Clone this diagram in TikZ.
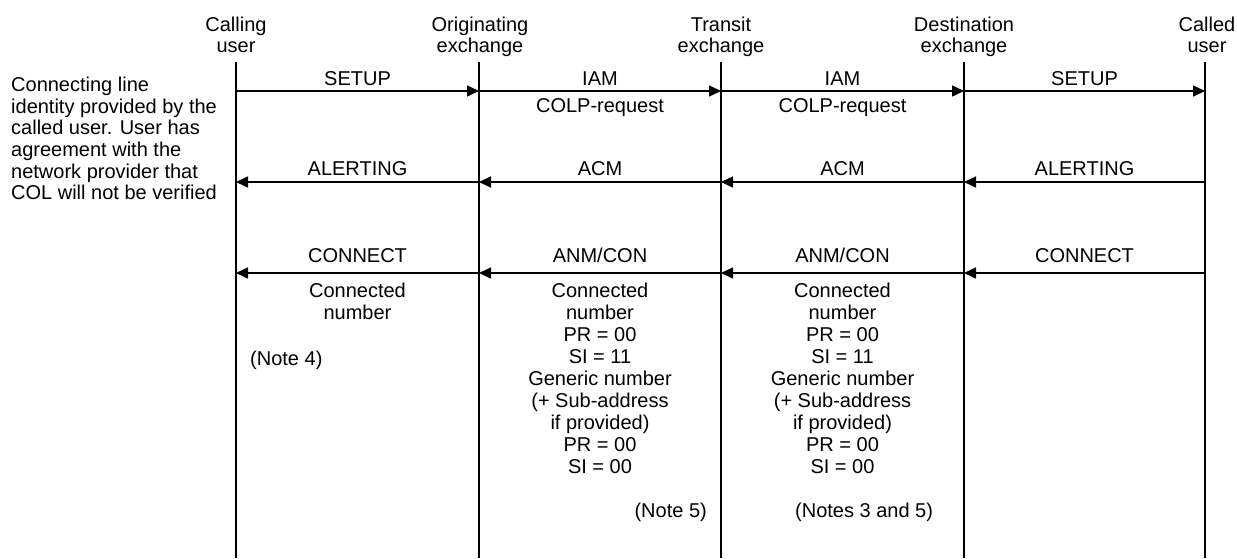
\documentclass[tikz,border=0pt]{standalone}
\usepackage{fontspec}
\setmainfont{Liberation Sans}
\usetikzlibrary{arrows.meta}
\begin{document}
\begin{tikzpicture}[x=1pt,y=-1pt,
  every node/.style={inner sep=0pt,font=\fontsize{20}{22}\selectfont},
  life/.style={line width=1.5pt},
  msg/.style={line width=1.5pt,-{Triangle[length=12pt,width=11pt]}},
  lbl/.style={anchor=base},
  hdr/.style={anchor=north,align=center,font=\fontsize{20}{20.5}\selectfont},
  info/.style={anchor=north,align=center}]
\useasboundingbox (0,0) rectangle (1237,558);
% lifelines and coordinates
\foreach \n/\x in {A/236,B/479,C/721,D/964,E/1205}{
  \coordinate (\n top) at (\x,62);
  \coordinate (\n bot) at (\x,558);
  \foreach \r/\y in {1/91,2/182,3/273}{\coordinate (\n\r) at (\x,\y);}
}
\foreach \n in {A,B,C,D,E}{\draw[life] (\n top) -- (\n bot);}
% headers
\node[hdr] (hA) at (236,17) {Calling\\user};
\node[hdr] (hB) at (480,17) {Originating\\exchange};
\node[hdr] (hC) at (721,17) {Transit\\exchange};
\node[hdr] (hD) at (964,17) {Destination\\exchange};
\node[hdr] (hE) at (1207,17) {Called\\user};
% left description
\node[anchor=north west,align=left,font=\fontsize{20}{21.6}\selectfont] (desc) at (11,77)
  {Connecting line\\identity provided by the\\called user. User has\\agreement with the\\network provider that\\COL will not be verified};
% row 1
\draw[msg] (A1) -- (B1);
\draw[msg] (B1) -- (C1);
\draw[msg] (C1) -- (D1);
\draw[msg] (D1) -- (E1);
\node[lbl] (m11) at (357.5,85) {SETUP};
\node[lbl] (m12) at (600,85) {IAM};
\node[lbl] (m13) at (842.5,85) {IAM};
\node[lbl] (m14) at (1084.5,85) {SETUP};
\node[lbl] (c12) at (600,112) {COLP-request};
\node[lbl] (c13) at (842.5,112) {COLP-request};
% row 2
\draw[msg] (E2) -- (D2);
\draw[msg] (D2) -- (C2);
\draw[msg] (C2) -- (B2);
\draw[msg] (B2) -- (A2);
\node[lbl] (m21) at (357.5,175) {ALERTING};
\node[lbl] (m22) at (600,175) {ACM};
\node[lbl] (m23) at (842.5,175) {ACM};
\node[lbl] (m24) at (1084.5,175) {ALERTING};
% row 3
\draw[msg] (E3) -- (D3);
\draw[msg] (D3) -- (C3);
\draw[msg] (C3) -- (B3);
\draw[msg] (B3) -- (A3);
\node[lbl] (m31) at (357.5,262.5) {CONNECT};
\node[lbl] (m32) at (600,262.5) {ANM/CON};
\node[lbl] (m33) at (842.5,262.5) {ANM/CON};
\node[lbl] (m34) at (1084.5,262.5) {CONNECT};
% info blocks
\node[info] (i1) at (357.5,283) {Connected\\number};
\node[info] (i2) at (600,283) {Connected\\number\\PR = 00\\SI = 11\\Generic number\\(+ Sub-address\\if provided)\\PR = 00\\SI = 00};
\node[info] (i3) at (842.5,283) {Connected\\number\\PR = 00\\SI = 11\\Generic number\\(+ Sub-address\\if provided)\\PR = 00\\SI = 00};
% notes
\node[anchor=base west] (n4) at (250,365) {(Note 4)};
\node[anchor=base east] (n5) at (707,517) {(Note 5)};
\node[anchor=base west] (n35) at (795,517) {(Notes 3 and 5)};
\end{tikzpicture}
\end{document}
